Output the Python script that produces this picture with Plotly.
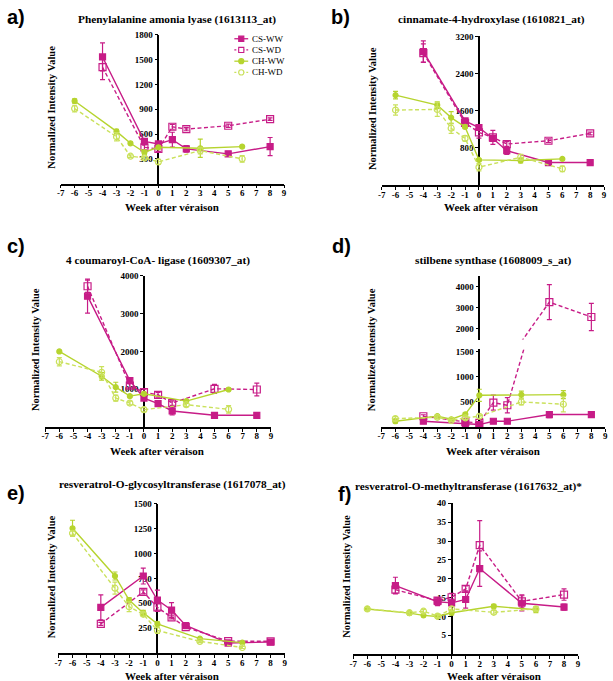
import plotly.graph_objects as go

W, H = 613, 681

# ---------------- data ----------------
WEEKS_CS = [-4, -1, 0, 1, 2, 5, 8]
WEEKS_CH = [-6, -3, -2, -1, 0, 3, 6]
SERIES = ["CS-WW", "CS-WD", "CH-WW", "CH-WD"]
X_TICKS = list(range(-7, 10))

TITLES = [
    "Phenylalanine amonia lyase (1613113_at)",
    "cinnamate-4-hydroxylase (1610821_at)",
    "4 coumaroyl-CoA- ligase (1609307_at)",
    "stilbene synthase (1608009_s_at)",
    "resveratrol-O-glycosyltransferase (1617078_at)",
    "resveratrol-O-methyltransferase (1617632_at)*",
]
LETTERS = ["a)", "b)", "c)", "d)", "e)", "f)"]
X_TITLE = "Week after véraison"
Y_TITLE = "Normalized Intensity Value"

# a) Phenylalanine amonia lyase
A_CS_WW = [1532, 512, 480, 532, 420, 360, 448]
A_CS_WW_ERR = [170, 30, 25, 90, 40, 30, 110]
A_CS_WD = [1408, 440, 420, 688, 660, 700, 780]
A_CS_WD_ERR = [150, 30, 30, 30, 20, 20, 15]
A_CH_WW = [1000, 632, 488, 380, 440, 428, 448]
A_CH_WW_ERR = [25, 25, 15, 25, 20, 110, 15]
A_CH_WD = [908, 568, 332, 312, 264, 400, 300]
A_CH_WD_ERR = [40, 50, 15, 15, 30, 40, 40]
A_YTICKS = [300, 600, 900, 1200, 1500, 1800]

# b) cinnamate-4-hydroxylase
B_CS_WW = [2876, 1383, 1241, 1006, 742, 487, 487]
B_CS_WW_ERR = [230, 40, 60, 60, 80, 40, 20]
B_CS_WD = [2841, 1340, 1134, 1028, 885, 956, 1113]
B_CS_WD_ERR = [200, 40, 120, 150, 50, 40, 30]
B_CH_WW = [1937, 1724, 1454, 1254, 544, 530, 565]
B_CH_WW_ERR = [80, 70, 130, 40, 30, 50, 20]
B_CH_WD = [1617, 1630, 1226, 1006, 388, 601, 352]
B_CH_WD_ERR = [110, 150, 110, 60, 80, 60, 60]
B_YTICKS = [800, 1600, 2400, 3200]

# c) 4 coumaroyl-CoA ligase
C_CS_WW = [3465, 1228, 763, 614, 421, 307, 307]
C_CS_WW_ERR = [450, 60, 60, 60, 100, 30, 30]
C_CS_WD = [3728, 1096, 921, 851, 632, 1009, 991]
C_CS_WD_ERR = [160, 60, 80, 60, 60, 120, 170]
C_CH_WW = [2000, 1342, 1053, 816, 877, 684, 991]
C_CH_WW_ERR = [30, 100, 130, 40, 40, 40, 30]
C_CH_WD = [1728, 1447, 763, 632, 456, 588, 465]
C_CH_WD_ERR = [110, 150, 80, 50, 60, 50, 100]
C_YTICKS = [1000, 2000, 3000, 4000]

# d) stilbene synthase (broken axis)
D_CS_WW = [112, 66, 46, 112, 112, 245, 245]
D_CS_WW_ERR = [20, 15, 15, 40, 20, 60, 15]
D_CS_WD = [211, 99, 79, 482, 430, 3270, 2557]
D_CS_WD_ERR = [30, 20, 20, 150, 150, 840, 650]
D_CH_WW = [113, 214, 152, 251, 628, 641, 641]
D_CH_WW_ERR = [40, 30, 20, 30, 120, 70, 80]
D_CH_WD = [165, 190, 130, 180, 211, 496, 450]
D_CH_WD_ERR = [40, 30, 20, 30, 40, 60, 150]
D_YTICKS_LOW = [500, 1000, 1500]
D_YTICKS_HIGH = [2000, 3000, 4000]

# e) resveratrol-O-glycosyltransferase
E_CS_WW = [459, 774, 533, 433, 278, 102, 112]
E_CS_WW_ERR = [125, 80, 100, 75, 30, 15, 10]
E_CS_WD = [294, 615, 459, 360, 261, 122, 119]
E_CS_WD_ERR = [15, 20, 40, 15, 15, 10, 10]
E_CH_WW = [1253, 774, 533, 404, 294, 146, 106]
E_CH_WW_ERR = [80, 40, 25, 25, 20, 10, 10]
E_CH_WD = [1203, 652, 466, 390, 228, 119, 57]
E_CH_WD_ERR = [20, 60, 50, 20, 30, 10, 10]
E_YTICKS = [250, 500, 750, 1000, 1250, 1500]

# f) resveratrol-O-methyltransferase
F_CS_WW = [18.2, 13.9, 13.6, 14.5, 22.7, 13.5, 12.5]
F_CS_WW_ERR = [2.2, 1.0, 1.0, 2.3, 4.7, 2.0, 0.8]
F_CS_WD = [17.1, 14.2, 15.1, 17.3, 28.9, 14.0, 15.8]
F_CS_WD_ERR = [1.0, 0.8, 1.0, 0.8, 6.5, 1.7, 1.5]
F_CH_WW = [12.0, 10.9, 10.3, 10.0, 11.0, 12.7, 11.8]
F_CH_WW_ERR = [0.4, 0.5, 0.4, 0.4, 0.6, 0.5, 0.8]
F_CH_WD = [12.0, 11.0, 11.4, 10.1, 12.0, 11.1, 12.0]
F_CH_WD_ERR = [0.4, 0.4, 0.5, 0.4, 0.6, 0.5, 0.4]
F_YTICKS = [5, 10, 15, 20, 25, 30, 35, 40]

# ---------------- styles ----------------
MAGENTA = "#C71C87"
GREEN = "#B6D42F"
LIGHTGREEN = "#CAE15C"
SERIF = "Liberation Serif"
DASH = "4px,2.5px"
STYLE = {
    "CS-WW": dict(color=MAGENTA, symbol="square", size=6, dash="solid"),
    "CS-WD": dict(color=MAGENTA, symbol="square-open", size=7, dash=DASH),
    "CH-WW": dict(color=GREEN, symbol="circle", size=5, dash="solid"),
    "CH-WD": dict(color=LIGHTGREEN, symbol="circle-open", size=6, dash=DASH),
}


def fx(p):
    return p / W


def fy(p):
    return 1 - p / H


fig = go.Figure()

# panel geometry in pixels (x of -7 and 9, y of axis top and of zero)
PANELS = [
    dict(x0=57.3, x1=283.3, yt=30, yb=180, yr=[0, 1800], ticks=A_YTICKS,
         data=[A_CS_WW, A_CS_WD, A_CH_WW, A_CH_WD],
         err=[A_CS_WW_ERR, A_CS_WD_ERR, A_CH_WW_ERR, A_CH_WD_ERR],
         title=(175, 15), letter=(1, 12), xt=(170, 203), ytl=(48, 103)),
    dict(x0=382, x1=607, yt=31.7, yb=181.5, yr=[0, 3200], ticks=B_YTICKS,
         data=[B_CS_WW, B_CS_WD, B_CH_WW, B_CH_WD],
         err=[B_CS_WW_ERR, B_CS_WD_ERR, B_CH_WW_ERR, B_CH_WD_ERR],
         title=(493, 15), letter=(329, 12), xt=(493, 203), ytl=(372, 104)),
    dict(x0=41.7, x1=270, yt=273, yb=425, yr=[0, 4000], ticks=C_YTICKS,
         data=[C_CS_WW, C_CS_WD, C_CH_WW, C_CH_WD],
         err=[C_CS_WW_ERR, C_CS_WD_ERR, C_CH_WW_ERR, C_CH_WD_ERR],
         title=(156, 257), letter=(1, 243), xt=(155, 449), ytl=(32, 347)),
    dict(x0=381.7, x1=608.3, yt=347, yb=425, yr=[0, 1540], ticks=D_YTICKS_LOW,
         data=[D_CS_WW, D_CS_WD, D_CH_WW, D_CH_WD],
         err=[D_CS_WW_ERR, D_CS_WD_ERR, D_CH_WW_ERR, D_CH_WD_ERR],
         title=(495, 257), letter=(330, 243), xt=(495, 449), ytl=(372, 347)),
    dict(x0=55, x1=284, yt=502.3, yb=653, yr=[0, 1500], ticks=E_YTICKS,
         data=[E_CS_WW, E_CS_WD, E_CH_WW, E_CH_WD],
         err=[E_CS_WW_ERR, E_CS_WD_ERR, E_CH_WW_ERR, E_CH_WD_ERR],
         title=(170, 483), letter=(1, 492), xt=(170, 676), ytl=(48, 576)),
    dict(x0=353.3, x1=580.7, yt=502, yb=654, yr=[0, 40], ticks=F_YTICKS,
         data=[F_CS_WW, F_CS_WD, F_CH_WW, F_CH_WD],
         err=[F_CS_WW_ERR, F_CS_WD_ERR, F_CH_WW_ERR, F_CH_WD_ERR],
         title=(470, 485), letter=(336, 493), xt=(496, 676), ytl=(347, 576)),
]

TICKFONT = dict(family=SERIF, size=9, color="black", weight="bold")
X_TICKTEXT = [str(v) for v in X_TICKS]


def add_series(xa, ya, xs, ys, errs, name):
    st = STYLE[name]
    fig.add_trace(go.Scatter(
        x=xs, y=ys, name=name, mode="lines+markers",
        xaxis=xa, yaxis=ya, showlegend=False,
        line=dict(color=st["color"], width=1.4, dash=st["dash"]),
        marker=dict(symbol=st["symbol"], size=st["size"], color=st["color"],
                    line=dict(color=st["color"], width=1.2)),
        error_y=dict(type="data", array=errs, color=st["color"],
                     thickness=1.2, width=2.5),
        cliponaxis=True,
    ))


def yaxis_dict(ytop, ybot, yr, ticks, pos):
    return dict(domain=[fy(ybot), fy(ytop)], range=yr, anchor="free",
                position=pos, tickvals=ticks, ticks="outside", ticklen=3,
                tickwidth=1.3, tickcolor="black", showline=True,
                linecolor="black", linewidth=1.5, showgrid=False,
                zeroline=False, tickfont=TICKFONT, layer="below traces")


layout = {}
annotations = []
shapes = []
for i, p in enumerate(PANELS):
    n = i + 1
    xa = "x" if n == 1 else f"x{n}"
    ya = "y" if n == 1 else f"y{n}"
    xkey = "xaxis" if n == 1 else f"xaxis{n}"
    ykey = "yaxis" if n == 1 else f"yaxis{n}"
    xdom = [fx(p["x0"]), fx(p["x1"])]
    yzero = xdom[0] + (0 - (-7)) / 16 * (xdom[1] - xdom[0])
    layout[xkey] = dict(domain=xdom, range=[-7, 9], anchor=ya,
                        tickvals=X_TICKS, ticktext=X_TICKTEXT,
                        ticks="outside", ticklen=3, ticklabelstandoff=-3,
                        tickwidth=1.3, tickcolor="black", showline=True,
                        linecolor="black", linewidth=1.5, showgrid=False,
                        zeroline=False, tickfont=TICKFONT, layer="below traces")
    layout[ykey] = yaxis_dict(p["yt"], p["yb"], p["yr"], p["ticks"], yzero)
    xs_list = [WEEKS_CS, WEEKS_CS, WEEKS_CH, WEEKS_CH]
    for s, name in enumerate(SERIES):
        add_series(xa, ya, xs_list[s], p["data"][s], p["err"][s], name)
    if n == 4:
        # upper segment of the broken axis
        layout["yaxis7"] = yaxis_dict(273, 337, [1480, 4520], D_YTICKS_HIGH, yzero)
        for s, name in enumerate(SERIES):
            add_series(xa, "y7", xs_list[s], p["data"][s], p["err"][s], name)

    annotations.append(dict(text=TITLES[i], x=fx(p["title"][0]), y=fy(p["title"][1]),
                            xref="paper", yref="paper", showarrow=False,
                            xanchor="center", yanchor="middle",
                            font=dict(family=SERIF, size=11.3, color="black", weight="bold")))
    annotations.append(dict(text=LETTERS[i], x=fx(p["letter"][0]), y=fy(p["letter"][1]),
                            xref="paper", yref="paper", showarrow=False,
                            xanchor="left", yanchor="middle",
                            font=dict(family="Liberation Sans", size=20, color="black", weight="bold")))
    annotations.append(dict(text=X_TITLE, x=fx(p["xt"][0]), y=fy(p["xt"][1]),
                            xref="paper", yref="paper", showarrow=False,
                            xanchor="center", yanchor="middle",
                            font=dict(family=SERIF, size=11, color="black", weight="bold")))
    annotations.append(dict(text=Y_TITLE, x=fx(p["ytl"][0]), y=fy(p["ytl"][1]),
                            xref="paper", yref="paper", showarrow=False, textangle=-90,
                            xanchor="center", yanchor="middle",
                            font=dict(family=SERIF, size=10.5, color="black", weight="bold")))

# compact legend for panel a (drawn like the Prism legend)
LEG_X, LEG_Y, LEG_DY = 240, 34, 11.3
for k, name in enumerate(SERIES):
    st = STYLE[name]
    yy = LEG_Y + k * LEG_DY
    shapes.append(dict(type="line", xref="paper", yref="paper",
                       x0=fx(LEG_X - 7), x1=fx(LEG_X + 7), y0=fy(yy), y1=fy(yy),
                       line=dict(color=st["color"], width=1.3,
                                 dash="solid" if st["dash"] == "solid" else "2px,2px")))
    r = 2.6
    filled = "open" not in st["symbol"]
    shapes.append(dict(type="rect" if "square" in st["symbol"] else "circle",
                       xref="paper", yref="paper",
                       x0=fx(LEG_X - r), x1=fx(LEG_X + r), y0=fy(yy + r), y1=fy(yy - r),
                       fillcolor=st["color"] if filled else "white",
                       line=dict(color=st["color"], width=1.1)))
    annotations.append(dict(text=name, x=fx(LEG_X + 9), y=fy(yy), xref="paper",
                            yref="paper", showarrow=False, xanchor="left",
                            yanchor="middle",
                            font=dict(family=SERIF, size=9, color="black")))

fig.update_layout(
    width=W, height=H, margin=dict(l=0, r=0, t=0, b=0),
    paper_bgcolor="white", plot_bgcolor="rgba(0,0,0,0)",
    annotations=annotations, shapes=shapes, showlegend=False,
    **layout,
)

fig.write_html("out.html", config={"displayModeBar": False},
               post_script="document.body.style.margin='0';document.body.style.overflow='hidden';")
